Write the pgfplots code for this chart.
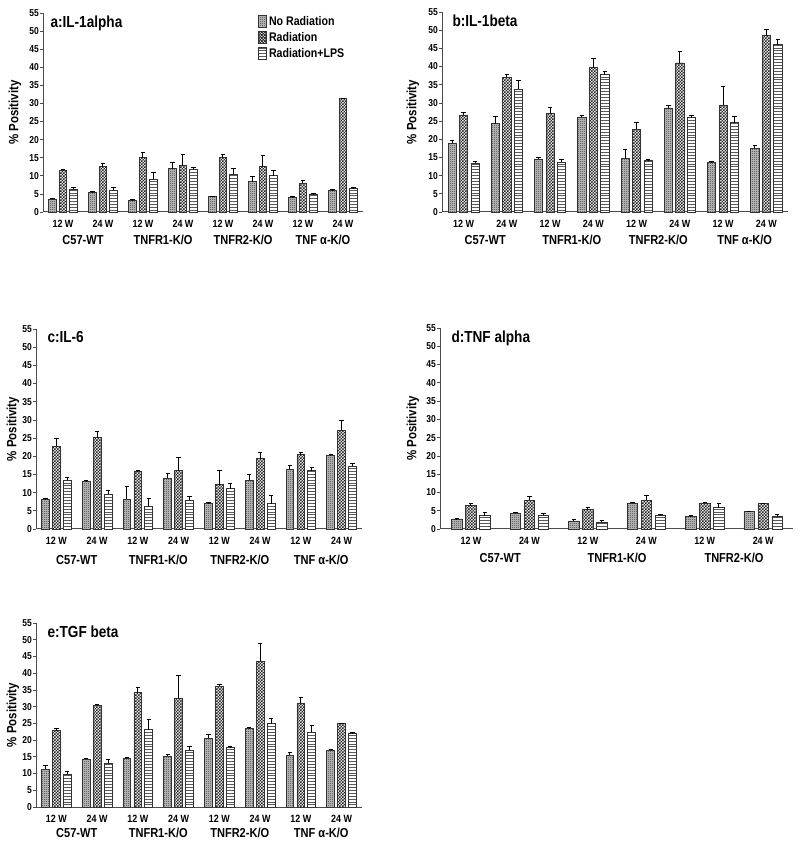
\documentclass[border=0pt]{standalone}
\usepackage{fontspec}
\setmainfont{Liberation Sans}[FakeStretch=0.85]
\usepackage{pgfplots}
\pgfplotsset{compat=1.18}
\usetikzlibrary{patterns}
\definecolor{axgray}{gray}{0.3}
\pgfdeclarepatternformonly{finecheck}{\pgfqpoint{-.1bp}{-.1bp}}{\pgfqpoint{3.1bp}{3.1bp}}{\pgfqpoint{3bp}{3bp}}{%
  \pgfpathrectangle{\pgfpointorigin}{\pgfqpoint{1.55bp}{1.55bp}}%
  \pgfpathrectangle{\pgfqpoint{1.5bp}{1.5bp}}{\pgfqpoint{1.55bp}{1.55bp}}%
  \pgfusepath{fill}}
\pgfdeclarepatternformonly{finehl}{\pgfqpoint{-1bp}{-1bp}}{\pgfqpoint{4bp}{3bp}}{\pgfqpoint{3bp}{2.9bp}}{%
  \pgfsetlinewidth{0.9bp}%
  \pgfpathmoveto{\pgfqpoint{-0.5bp}{0.5bp}}\pgfpathlineto{\pgfqpoint{3.5bp}{0.5bp}}%
  \pgfusepath{stroke}}
\pgfdeclarepatternformonly{finedots}{\pgfqpoint{-.1bp}{-.1bp}}{\pgfqpoint{2.1bp}{2.1bp}}{\pgfqpoint{2bp}{2bp}}{%
  \pgfpathrectangle{\pgfpointorigin}{\pgfqpoint{0.9bp}{0.9bp}}%
  \pgfusepath{fill}}
\tikzset{
  glab/.style={font=\fontsize{13bp}{14bp}\selectfont\bfseries, anchor=center},
  ttl/.style={font=\fontsize{16bp}{17bp}\selectfont\bfseries, anchor=north west},
  nrS/.style={fill=gray!62, draw=black!80, line width=0.8bp, postaction={pattern=finedots, pattern color=black!60}},
  radS/.style={fill=white, draw=black!80, line width=0.8bp, postaction={pattern=finecheck, pattern color=black!85}},
  lpsS/.style={fill=white, draw=black!80, line width=0.8bp, postaction={pattern=finehl, pattern color=black!65}},
}
\pgfplotsset{
  panel/.style={
    scale only axis,
    ymin=0, ymax=55,
    ytick={0,5,...,55},
    axis lines=left,
    axis line style={-, axgray, line width=1bp},
    ytick pos=left,
    tick align=outside,
    major tick length=3bp,
    y tick style={axgray, line width=0.8bp},
    x tick style={draw=none},
    xtick={0,...,7},
    xticklabels={12 W,24 W,12 W,24 W,12 W,24 W,12 W,24 W},
    xmin=-0.5, xmax=7.5,
    /pgf/number format/assume math mode=true,
    yticklabel style={font=\fontsize{10bp}{11bp}\selectfont\bfseries, inner sep=1bp},
    xticklabel style={font=\fontsize{10.5bp}{11bp}\selectfont\bfseries, yshift=-2bp},
    ylabel={\% Positivity},
    ylabel style={font=\fontsize{13.5bp}{14bp}\selectfont\bfseries, at={(axis description cs:0,0.5)}, anchor=center},
    clip=false,
    error bars/y dir=plus,
    error bars/y explicit,
    error bars/error mark options={mark size=2.2bp, line width=1bp, black, rotate=90},
    error bars/error bar style={line width=1bp, black, solid},
  },
  nr/.style={nrS,
    legend image code/.code={\draw[nrS] (0bp,-6bp) rectangle (8bp,6bp);}},
  rad/.style={radS,
    legend image code/.code={\draw[radS] (0bp,-6bp) rectangle (8bp,6bp);}},
  lps/.style={lpsS,
    legend image code/.code={\draw[lpsS] (0bp,-6bp) rectangle (8bp,6bp);}},
}
\begin{document}
\begin{tikzpicture}
\useasboundingbox (0,0) rectangle (800bp,846bp);

% ---------------- a: IL-1alpha
\begin{axis}[panel, at={(43bp,634bp)}, anchor=south west, width=320bp, height=199bp,
  ybar=3bp, bar width=7.6bp, ylabel style={yshift=28bp},
  legend style={draw=none, fill=none, at={(rel axis cs:0.672,0.995)}, anchor=north west,
    font=\fontsize{12.5bp}{13bp}\selectfont\bfseries, row sep=1.5bp, inner sep=0pt},
  legend cell align=left]
\addplot[nr] coordinates {(0,3.5)+-(0,0.3) (1,5.3)+-(0,0.3) (2,3.2)+-(0,0.2) (3,12.0)+-(0,1.6) (4,4.2)+-(0,0.2) (5,8.4)+-(0,1.3) (6,4.0)+-(0,0.2) (7,6.0)+-(0,0.1)};
\addplot[rad] coordinates {(0,11.5)+-(0,0.3) (1,12.5)+-(0,1.0) (2,15.0)+-(0,1.5) (3,12.8)+-(0,3.2) (4,15.0)+-(0,0.8) (5,12.5)+-(0,3.1) (6,8.0)+-(0,0.7) (7,31.3)+-(0,0.1)};
\addplot[lps] coordinates {(0,6.3)+-(0,0.6) (1,6.0)+-(0,0.7) (2,9.0)+-(0,1.9) (3,11.8)+-(0,0.6) (4,10.4)+-(0,1.5) (5,10.0)+-(0,1.5) (6,4.8)+-(0,0.2) (7,6.5)+-(0,0.2)};
\legend{No Radiation, Radiation, Radiation+LPS}
\node[ttl] at (rel axis cs:0,1) [xshift=4bp, yshift=1bp] {a:IL-1alpha};
\node[glab] at (axis cs:0.5,0) [yshift=-28bp] {C57-WT};
\node[glab] at (axis cs:2.5,0) [yshift=-28bp] {TNFR1-K/O};
\node[glab] at (axis cs:4.5,0) [yshift=-28bp] {TNFR2-K/O};
\node[glab] at (axis cs:6.5,0) [yshift=-28bp] {TNF α-K/O};
\end{axis}

% ---------------- b: IL-1beta
\begin{axis}[panel, at={(442bp,634bp)}, anchor=south west, width=346bp, height=200bp,
  ybar=3.3bp, bar width=8.2bp, ylabel style={yshift=29bp}]
\addplot[nr] coordinates {(0,18.9)+-(0,0.8) (1,24.3)+-(0,2.0) (2,14.6)+-(0,0.5) (3,26.1)+-(0,0.4) (4,14.7)+-(0,2.6) (5,28.6)+-(0,0.7) (6,13.7)+-(0,0.1) (7,17.5)+-(0,0.8)};
\addplot[rad] coordinates {(0,26.7)+-(0,0.7) (1,37.0)+-(0,0.8) (2,27.0)+-(0,1.8) (3,39.7)+-(0,2.4) (4,22.8)+-(0,1.8) (5,41.0)+-(0,3.0) (6,29.3)+-(0,5.3) (7,48.5)+-(0,1.6)};
\addplot[lps] coordinates {(0,13.4)+-(0,0.5) (1,33.8)+-(0,2.3) (2,13.7)+-(0,0.8) (3,37.8)+-(0,0.8) (4,14.1)+-(0,0.3) (5,25.9)+-(0,0.6) (6,24.6)+-(0,1.7) (7,46.0)+-(0,1.3)};
\node[ttl] at (rel axis cs:0,1) [xshift=7bp, yshift=1bp] {b:IL-1beta};
\node[glab] at (axis cs:0.5,0) [yshift=-28bp] {C57-WT};
\node[glab] at (axis cs:2.5,0) [yshift=-28bp] {TNFR1-K/O};
\node[glab] at (axis cs:4.5,0) [yshift=-28bp] {TNFR2-K/O};
\node[glab] at (axis cs:6.5,0) [yshift=-28bp] {TNF α-K/O};
\end{axis}

% ---------------- c: IL-6
\begin{axis}[panel, at={(36bp,317bp)}, anchor=south west, width=326bp, height=200bp,
  ybar=3.1bp, bar width=7.8bp, ylabel style={yshift=23bp}]
\addplot[nr] coordinates {(0,8.1)+-(0,0.3) (1,13.0)+-(0,0.2) (2,8.2)+-(0,3.4) (3,14.0)+-(0,1.3) (4,7.0)+-(0,0.2) (5,13.4)+-(0,1.5) (6,16.4)+-(0,1.0) (7,20.3)+-(0,0.2)};
\addplot[rad] coordinates {(0,22.8)+-(0,2.0) (1,25.1)+-(0,1.7) (2,15.8)+-(0,0.3) (3,16.0)+-(0,3.7) (4,12.2)+-(0,3.9) (5,19.3)+-(0,1.8) (6,20.4)+-(0,0.6) (7,27.1)+-(0,2.6)};
\addplot[lps] coordinates {(0,13.4)+-(0,0.7) (1,9.6)+-(0,1.0) (2,6.3)+-(0,2.0) (3,7.9)+-(0,0.9) (4,11.1)+-(0,1.3) (5,7.0)+-(0,2.1) (6,16.0)+-(0,0.8) (7,17.3)+-(0,0.8)};
\node[ttl] at (rel axis cs:0,1) [xshift=8bp, yshift=1bp] {c:IL-6};
\node[glab] at (axis cs:0.5,0) [yshift=-31bp] {C57-WT};
\node[glab] at (axis cs:2.5,0) [yshift=-31bp] {TNFR1-K/O};
\node[glab] at (axis cs:4.5,0) [yshift=-31bp] {TNFR2-K/O};
\node[glab] at (axis cs:6.5,0) [yshift=-31bp] {TNF α-K/O};
\end{axis}

% ---------------- d: TNF alpha
\begin{axis}[panel, at={(440bp,317bp)}, anchor=south west, width=353bp, height=201bp,
  xtick={0,...,5}, xticklabels={12 W,24 W,12 W,24 W,12 W,24 W}, xmin=-0.53, xmax=5.51,
  ybar=3.5bp, bar width=10.5bp, ylabel style={yshift=27bp}]
\addplot[nr] coordinates {(0,2.7)+-(0,0.1) (1,4.4)+-(0,0.2) (2,2.2)+-(0,0.3) (3,7.0)+-(0,0.3) (4,3.4)+-(0,0.3) (5,4.8)+-(0,0.1)};
\addplot[rad] coordinates {(0,6.4)+-(0,0.5) (1,7.8)+-(0,1.0) (2,5.3)+-(0,0.7) (3,7.8)+-(0,1.3) (4,7.0)+-(0,0.3) (5,7.0)+-(0,0.1)};
\addplot[lps] coordinates {(0,3.6)+-(0,0.8) (1,3.7)+-(0,0.5) (2,1.9)+-(0,0.4) (3,3.8)+-(0,0.2) (4,5.8)+-(0,1.1) (5,3.4)+-(0,0.7)};
\node[ttl] at (rel axis cs:0,1) [xshift=8bp, yshift=1bp] {d:TNF alpha};
\node[glab] at (axis cs:0.5,0) [yshift=-29bp] {C57-WT};
\node[glab] at (axis cs:2.5,0) [yshift=-29bp] {TNFR1-K/O};
\node[glab] at (axis cs:4.5,0) [yshift=-29bp] {TNFR2-K/O};
\end{axis}

% ---------------- e: TGF beta
\begin{axis}[panel, at={(36bp,39bp)}, anchor=south west, width=326bp, height=184bp,
  ybar=3.1bp, bar width=7.8bp, ylabel style={yshift=23bp}]
\addplot[nr] coordinates {(0,11.3)+-(0,1.0) (1,14.3)+-(0,0.2) (2,14.6)+-(0,0.1) (3,15.1)+-(0,0.7) (4,20.5)+-(0,1.3) (5,23.5)+-(0,0.2) (6,15.4)+-(0,0.8) (7,17.0)+-(0,0.3)};
\addplot[rad] coordinates {(0,22.8)+-(0,0.8) (1,30.4)+-(0,0.3) (2,34.2)+-(0,1.5) (3,32.5)+-(0,6.9) (4,36.1)+-(0,0.4) (5,43.6)+-(0,5.3) (6,31.1)+-(0,1.5) (7,24.9)+-(0,0.2)};
\addplot[lps] coordinates {(0,9.8)+-(0,0.7) (1,13.1)+-(0,1.2) (2,23.1)+-(0,3.2) (3,16.9)+-(0,1.1) (4,17.8)+-(0,0.2) (5,24.9)+-(0,1.5) (6,22.4)+-(0,1.9) (7,21.9)+-(0,0.5)};
\node[ttl] at (rel axis cs:0,1) [xshift=8bp, yshift=1bp] {e:TGF beta};
\node[glab] at (axis cs:0.5,0) [yshift=-26bp] {C57-WT};
\node[glab] at (axis cs:2.5,0) [yshift=-26bp] {TNFR1-K/O};
\node[glab] at (axis cs:4.5,0) [yshift=-26bp] {TNFR2-K/O};
\node[glab] at (axis cs:6.5,0) [yshift=-26bp] {TNF α-K/O};
\end{axis}
\end{tikzpicture}
\end{document}
